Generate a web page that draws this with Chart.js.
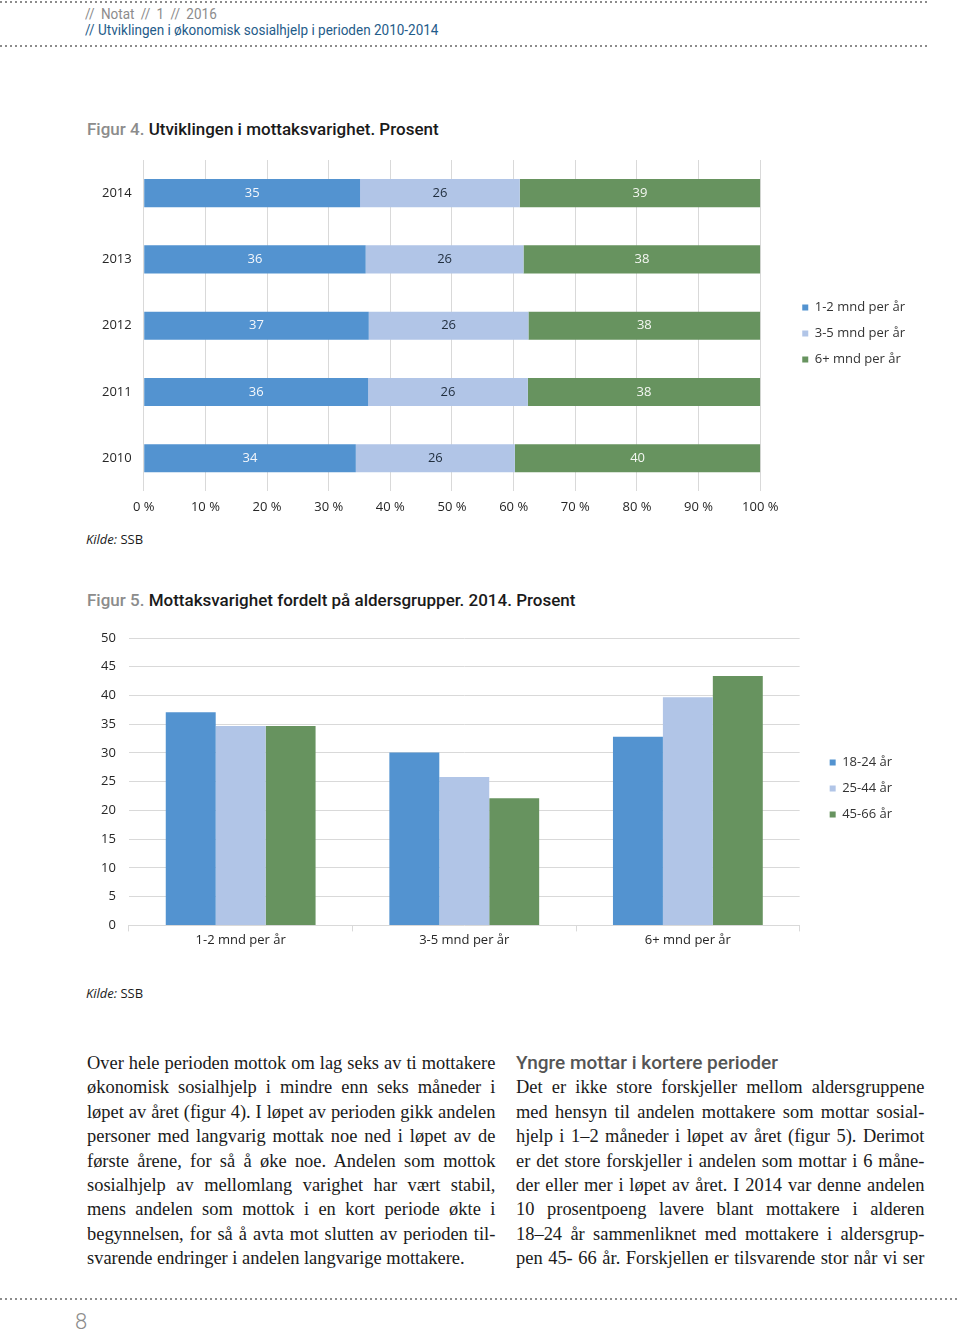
<!DOCTYPE html>
<html lang="no">
<head>
<meta charset="utf-8">
<script src="https://cdn.jsdelivr.net/npm/chart.js@4.4.1/dist/chart.umd.min.js"></script>
<style>
  body { margin: 0; width: 960px; height: 1334px; position: relative; background: #fff; overflow: hidden; font-family: "Open Sans", sans-serif; }
  .dots { position: absolute; left: 0; height: 2px; background-image: repeating-linear-gradient(to right, #8c8c8c 0 2px, transparent 2px 5px); }
  .abs { position: absolute; white-space: nowrap; }
  .narrow { font-family: Roboto, sans-serif; transform-origin: 0 0; }
  .fig { font-size: 17px; font-weight: 500; color: #1a1a1a; }
  .fig b { color: #8c8c8c; font-weight: 500; }
  .src { font-size: 13px; color: #1a1a1a; }
  .col { position: absolute; width: 421px; transform: scaleX(0.97); transform-origin: 0 0; font-family: "Liberation Serif", serif; font-size: 19px; line-height: 24.4px; color: #1a1a1a; }
  .ln { text-align: justify; text-align-last: justify; }
  .ln.end { text-align-last: left; }
  canvas { position: absolute; left: 0; }
</style>
</head>
<body>
<div class="dots" style="top:1px;width:928px"></div>
<div class="abs narrow" style="left:85px;top:6px;font-size:14px;color:#8c8c8c;word-spacing:3px;transform:scaleX(0.965)">// Notat // 1 // 2016</div>
<div class="abs narrow" style="left:85px;top:22px;font-size:14px;color:#1f5c8a;transform:scaleX(0.965)">// Utviklingen i økonomisk sosialhjelp i perioden 2010-2014</div>
<div class="dots" style="top:45px;width:928px"></div>

<div class="abs narrow fig" style="left:87px;top:119px"><b>Figur 4.</b> Utviklingen i mottaksvarighet. Prosent</div>
<canvas id="durationChart" width="960" height="373" style="top:150px"></canvas>
<div class="abs src" style="left:86px;top:530px"><i>Kilde:</i> SSB</div>

<div class="abs narrow fig" style="left:87px;top:590px"><b>Figur 5.</b> Mottaksvarighet fordelt på aldersgrupper. 2014. Prosent</div>
<canvas id="ageChart" width="960" height="340" style="top:620px"></canvas>
<div class="abs src" style="left:86px;top:984px"><i>Kilde:</i> SSB</div>

<div class="col" style="left:87px;top:1051px">
  <div class="ln">Over hele perioden mottok om lag seks av ti mottakere</div>
  <div class="ln">økonomisk sosialhjelp i mindre enn seks måneder i</div>
  <div class="ln">løpet av året (figur 4). I løpet av perioden gikk andelen</div>
  <div class="ln">personer med langvarig mottak noe ned i løpet av de</div>
  <div class="ln">første årene, for så å øke noe. Andelen som mottok</div>
  <div class="ln">sosialhjelp av mellomlang varighet har vært stabil,</div>
  <div class="ln">mens andelen som mottok i en kort periode økte i</div>
  <div class="ln">begynnelsen, for så å avta mot slutten av perioden til-</div>
  <div class="ln end">svarende endringer i andelen langvarige mottakere.</div>
</div>

<div class="abs narrow" style="left:516px;top:1051px;font-size:19px;font-weight:500;color:#555">Yngre mottar i kortere perioder</div>
<div class="col" style="left:516px;top:1075.4px">
  <div class="ln">Det er ikke store forskjeller mellom aldersgruppene</div>
  <div class="ln">med hensyn til andelen mottakere som mottar sosial-</div>
  <div class="ln">hjelp i 1–2 måneder i løpet av året (figur 5). Derimot</div>
  <div class="ln">er det store forskjeller i andelen som mottar i 6 måne-</div>
  <div class="ln">der eller mer i løpet av året. I 2014 var denne andelen</div>
  <div class="ln">10 prosentpoeng lavere blant mottakere i alderen</div>
  <div class="ln">18–24 år sammenliknet med mottakere i aldersgrup-</div>
  <div class="ln">pen 45- 66 år. Forskjellen er tilsvarende stor når vi ser</div>
</div>

<div class="dots" style="top:1298px;width:960px"></div>
<div class="abs" style="left:75px;top:1309px;font-family:Roboto,sans-serif;font-weight:300;font-size:22px;color:#8c8c8c">8</div>

<script>
// figur 4
const years = ["2014", "2013", "2012", "2011", "2010"];
const shortStay = [35.1, 36.0, 36.5, 36.4, 34.4];
const midStay = [25.9, 25.6, 25.9, 25.9, 25.8];
const longStay = [39.0, 38.4, 37.6, 37.7, 39.8];
const percentTicks = [0, 10, 20, 30, 40, 50, 60, 70, 80, 90, 100];

// figur 5
const durations = ["1-2 mnd per år", "3-5 mnd per år", "6+ mnd per år"];
const age18to24 = [37.1, 30.1, 32.8];
const age25to44 = [34.7, 25.8, 39.7];
const age45to66 = [34.7, 22.1, 43.4];
const ageTicks = [0, 5, 10, 15, 20, 25, 30, 35, 40, 45, 50];

const BLUE = "#5393d0";
const LIGHT = "#b1c5e7";
const GREEN = "#67935f";
const GRID = "#d9d9d9";
const TEXT = "#262626";

Chart.defaults.font.family = "'Open Sans', sans-serif";
Chart.defaults.font.size = 13;
Chart.defaults.color = TEXT;

// writes the rounded value in the middle of every bar
const barValueLabels = {
    id: "barValueLabels",
    afterDatasetsDraw(chart) {
        const ctx = chart.ctx;
        ctx.save();
        ctx.font = "13px 'Open Sans', sans-serif";
        ctx.textAlign = "center";
        ctx.textBaseline = "middle";
        chart.data.datasets.forEach(function (ds, i) {
            chart.getDatasetMeta(i).data.forEach(function (bar, j) {
                const p = bar.getCenterPoint();
                ctx.fillStyle = ds.labelColor;
                ctx.fillText(Math.round(ds.data[j]), p.x, p.y);
            });
        });
        ctx.restore();
    }
};

// moves the legend a bit away from the plot
const legendNudge = {
    id: "legendNudge",
    afterLayout(chart, args, opts) {
        const lg = chart.legend;
        lg.left += opts.dx; lg.right += opts.dx;
        lg.top += opts.dy; lg.bottom += opts.dy;
    }
};

function legendOpts() {
    return {
        position: "right",
        align: "center",
        labels: { boxWidth: 6, boxHeight: 6, padding: 13, color: "#333", font: { size: 13 } }
    };
}

new Chart(document.getElementById("durationChart"), {
    type: "bar",
    data: {
        labels: years,
        datasets: [
            { label: durations[0], data: shortStay, backgroundColor: BLUE, labelColor: "#f4f7fb" },
            { label: durations[1], data: midStay, backgroundColor: LIGHT, labelColor: "#1f2d3d" },
            { label: durations[2], data: longStay, backgroundColor: GREEN, labelColor: "#f4f7f2" }
        ]
    },
    options: {
        indexAxis: "y",
        responsive: false,
        animation: false,
        barPercentage: 0.424,
        categoryPercentage: 1,
        layout: { padding: { left: 102, top: 10, right: 74, bottom: 0 } },
        plugins: {
            legend: legendOpts(),
            tooltip: { enabled: false },
            legendNudge: { dx: 29, dy: -8 }
        },
        scales: {
            x: {
                stacked: true,
                min: 0,
                max: 100,
                afterBuildTicks: function (s) { s.ticks = percentTicks.map(function (v) { return { value: v }; }); },
                ticks: { padding: 8, callback: function (v) { return v + " %"; } },
                grid: { color: GRID, drawTicks: false },
                border: { display: false }
            },
            y: {
                stacked: true,
                ticks: { padding: 0 },
                grid: { display: false, tickLength: 12 },
                border: { display: false }
            }
        }
    },
    plugins: [barValueLabels, legendNudge]
});

new Chart(document.getElementById("ageChart"), {
    type: "bar",
    data: {
        labels: durations,
        datasets: [
            { label: "18-24 år", data: age18to24, backgroundColor: BLUE },
            { label: "25-44 år", data: age25to44, backgroundColor: LIGHT },
            { label: "45-66 år", data: age45to66, backgroundColor: GREEN }
        ]
    },
    options: {
        responsive: false,
        animation: false,
        barPercentage: 1,
        categoryPercentage: 0.67,
        layout: { padding: { left: 101, top: 18, right: 75, bottom: 11 } },
        plugins: {
            legend: legendOpts(),
            tooltip: { enabled: false },
            legendNudge: { dx: 17, dy: -5 }
        },
        scales: {
            x: {
                ticks: { padding: 1 },
                grid: { drawOnChartArea: false, tickLength: 6, color: GRID, offset: true },
                border: { display: false }
            },
            y: {
                min: 0,
                max: 50,
                afterBuildTicks: function (s) { s.ticks = ageTicks.map(function (v) { return { value: v }; }); },
                ticks: { padding: 0 },
                grid: { color: GRID, tickLength: 13, drawTicks: true, tickColor: "rgba(0,0,0,0)" },
                border: { display: false }
            }
        }
    },
    plugins: [legendNudge]
});
</script>
</body>
</html>
